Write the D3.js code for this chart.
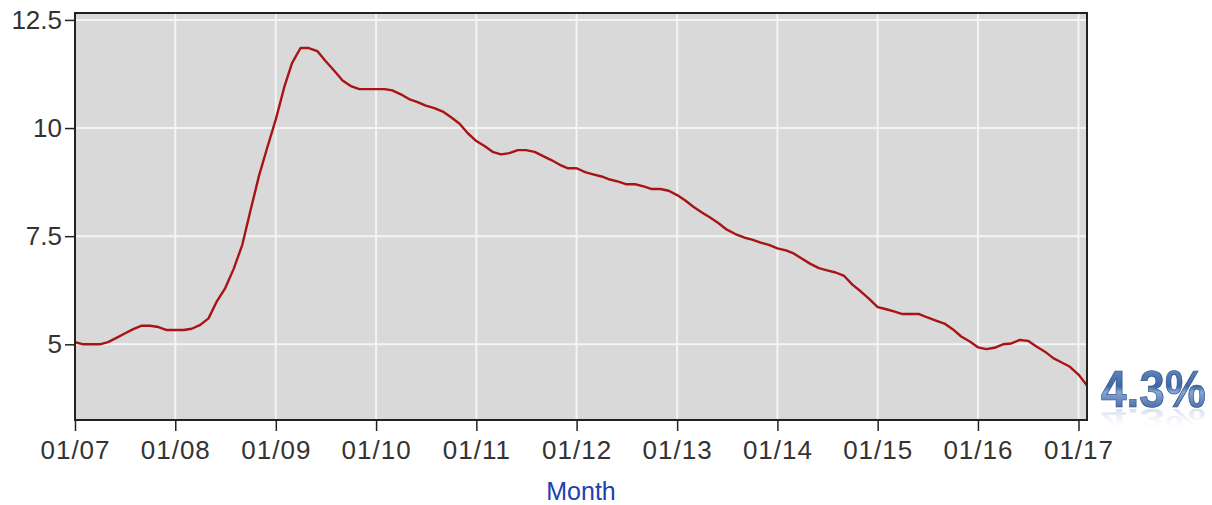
<!DOCTYPE html>
<html>
<head>
<meta charset="utf-8">
<script src="https://cdn.jsdelivr.net/npm/d3@7"></script>
<style>
  body { margin: 0; background: #fff; }
</style>
</head>
<body>
<div id="chart"></div>
<script>
// monthly rate, Jan 2007 .. Feb 2017
const startYear = 2007;
const rates = [
  5.05, 5.0, 5.0, 5.0, 5.05, 5.15, 5.25, 5.35, 5.43, 5.43, 5.4, 5.33,
  5.33, 5.33, 5.36, 5.45, 5.6, 6.0, 6.3, 6.75, 7.3, 8.1, 8.9, 9.55,
  10.2, 10.95, 11.5, 11.85, 11.85, 11.78, 11.55, 11.33, 11.1, 10.97, 10.9, 10.9,
  10.9, 10.9, 10.87, 10.78, 10.67, 10.6, 10.52, 10.46, 10.38, 10.25, 10.1, 9.88,
  9.7, 9.58, 9.45, 9.39, 9.42, 9.49, 9.49, 9.45, 9.35, 9.26, 9.15, 9.07,
  9.07, 8.98, 8.93, 8.88, 8.81, 8.76, 8.7, 8.7, 8.65, 8.59, 8.59, 8.55,
  8.45, 8.32, 8.18, 8.05, 7.93, 7.8, 7.65, 7.55, 7.47, 7.42, 7.35, 7.3,
  7.22, 7.17, 7.1, 6.98, 6.86, 6.76, 6.71, 6.66, 6.58, 6.38, 6.22, 6.05,
  5.86, 5.81, 5.76, 5.7, 5.7, 5.7, 5.62, 5.55, 5.48, 5.35, 5.18, 5.07,
  4.93, 4.89, 4.92, 5.0, 5.02, 5.1, 5.08, 4.95, 4.83, 4.68, 4.58, 4.48,
  4.3, 4.05
];
const yTicks = [5, 7.5, 10, 12.5];
const xTickYears = d3.range(2007, 2018);
const latestLabel = "4.3%";
const axisTitle = "Month";

const width = 1212;
const height = 505;
const margin = { top: 13, right: 125, bottom: 85, left: 75 };

const data = rates.map((v, i) => ({ date: new Date(startYear, i, 1), value: v }));

const x = d3.scaleTime()
  .domain([data[0].date, data[data.length - 1].date])
  .range([margin.left, width - margin.right]);

const y = d3.scaleLinear()
  .domain([3.25, 12.66])
  .range([height - margin.bottom, margin.top]);

const svg = d3.create("svg")
  .attr("width", width)
  .attr("height", height)
  .style("font-family", "'Liberation Sans', Arial, sans-serif");

const defs = svg.append("defs");
const grad = defs.append("linearGradient")
  .attr("id", "labelGrad")
  .attr("x1", 0).attr("y1", 0).attr("x2", 0).attr("y2", 1);
grad.append("stop").attr("offset", "0%").attr("stop-color", "#6f96cc");
grad.append("stop").attr("offset", "45%").attr("stop-color", "#3e67a6");
grad.append("stop").attr("offset", "55%").attr("stop-color", "#86a7d6");
grad.append("stop").attr("offset", "100%").attr("stop-color", "#284d8c");

const fade = defs.append("linearGradient")
  .attr("id", "fadeGrad")
  .attr("x1", 0).attr("y1", 0).attr("x2", 0).attr("y2", 1);
fade.append("stop").attr("offset", "0%").attr("stop-color", "#ffffff").attr("stop-opacity", 0);
fade.append("stop").attr("offset", "100%").attr("stop-color", "#7f9fcc").attr("stop-opacity", 0.5);

defs.append("clipPath").attr("id", "plotClip")
  .append("rect")
  .attr("x", margin.left).attr("y", margin.top)
  .attr("width", width - margin.right - margin.left)
  .attr("height", height - margin.bottom - margin.top);

// plot background
svg.append("rect")
  .attr("x", margin.left)
  .attr("y", margin.top)
  .attr("width", width - margin.right - margin.left)
  .attr("height", height - margin.bottom - margin.top)
  .attr("fill", "#d9d9d9");

// grid
const tickDates = xTickYears.map(yr => new Date(yr, 0, 1));
svg.append("g")
  .selectAll("line")
  .data(tickDates)
  .join("line")
  .attr("x1", d => x(d)).attr("x2", d => x(d))
  .attr("y1", margin.top).attr("y2", height - margin.bottom)
  .attr("stroke", "#f4f4f4")
  .attr("stroke-width", 2);

svg.append("g")
  .selectAll("line")
  .data(yTicks)
  .join("line")
  .attr("x1", margin.left).attr("x2", width - margin.right)
  .attr("y1", d => y(d)).attr("y2", d => y(d))
  .attr("stroke", "#f4f4f4")
  .attr("stroke-width", 2);

// line
const line = d3.line()
  .x(d => x(d.date))
  .y(d => y(d.value));

svg.append("path")
  .datum(data)
  .attr("clip-path", "url(#plotClip)")
  .attr("d", line)
  .attr("fill", "none")
  .attr("stroke", "#a81414")
  .attr("stroke-width", 2.4)
  .attr("stroke-linejoin", "round");

// frame
svg.append("rect")
  .attr("x", margin.left)
  .attr("y", margin.top)
  .attr("width", width - margin.right - margin.left)
  .attr("height", height - margin.bottom - margin.top)
  .attr("fill", "none")
  .attr("stroke", "#222")
  .attr("stroke-width", 2);

// axes
const xAxis = d3.axisBottom(x)
  .tickValues(tickDates)
  .tickFormat(d3.timeFormat("%m/%y"))
  .tickSize(11)
  .tickPadding(10);

const gx = svg.append("g")
  .attr("transform", `translate(0,${height - margin.bottom})`)
  .call(xAxis);

const yAxis = d3.axisLeft(y)
  .tickValues(yTicks)
  .tickFormat(d => d)
  .tickSize(10)
  .tickPadding(3);

const gy = svg.append("g")
  .attr("transform", `translate(${margin.left},0)`)
  .call(yAxis);

[gx, gy].forEach(g => {
  g.select(".domain").remove();
  g.selectAll(".tick line").attr("stroke", "#222").attr("stroke-width", 1.5);
  g.selectAll(".tick text")
    .attr("fill", "#333")
    .style("font-size", "26px")
    .style("font-family", "'Liberation Sans', Arial, sans-serif");
});
gx.selectAll(".tick text").attr("letter-spacing", "1px");

// axis title
svg.append("text")
  .attr("x", (margin.left + width - margin.right) / 2)
  .attr("y", 500)
  .attr("text-anchor", "middle")
  .attr("fill", "#2040b0")
  .style("font-size", "25px")
  .text(axisTitle);

// latest value label with faint reflection
const lx = 1101;
const ly = 407;
svg.append("text")
  .attr("transform", `translate(${lx},${ly + 2}) scale(1,-0.55)`)
  .attr("fill", "url(#fadeGrad)")
  .attr("font-weight", "bold")
  .style("font-size", "46px")
  .text(latestLabel);

svg.append("text")
  .attr("transform", `translate(${lx},${ly}) scale(1,1.12)`)
  .attr("fill", "url(#labelGrad)")
  .attr("stroke", "#2a4c85")
  .attr("stroke-width", 0.6)
  .attr("font-weight", "bold")
  .style("font-size", "46px")
  .text(latestLabel);

d3.select("#chart").node().append(svg.node());
</script>
</body>
</html>
